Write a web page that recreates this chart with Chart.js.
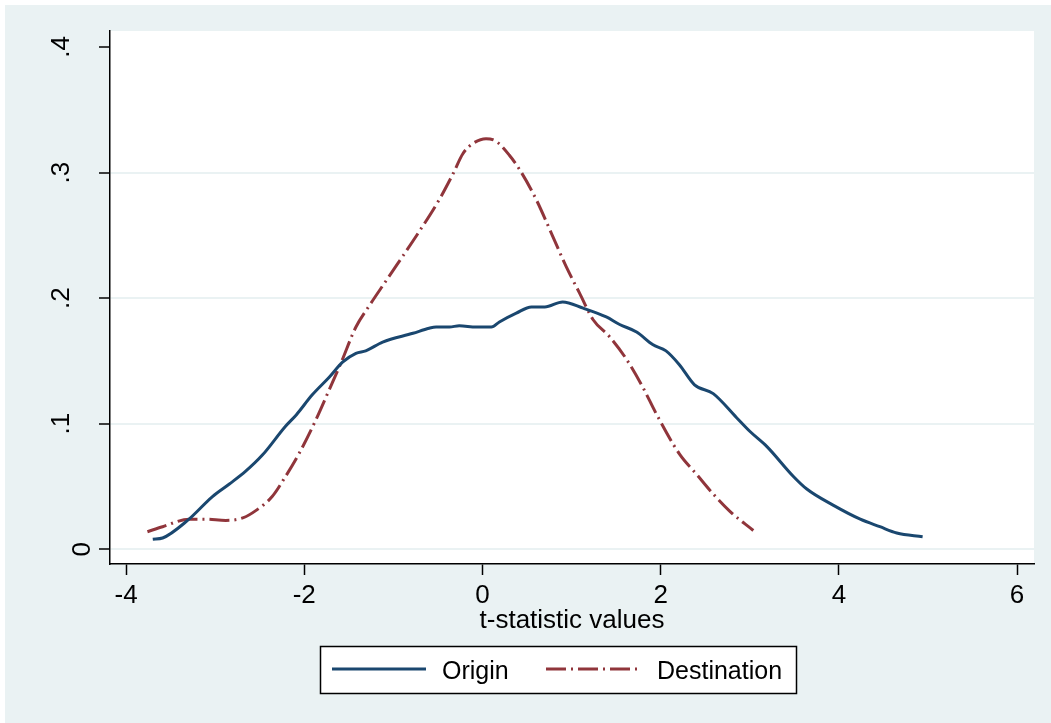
<!DOCTYPE html>
<html>
<head>
<meta charset="utf-8">
<script src="https://cdn.jsdelivr.net/npm/chart.js@4/dist/chart.umd.min.js"></script>
<style>
  html, body { margin: 0; padding: 0; background: #ffffff; }
  canvas { display: block; }
</style>
</head>
<body>
<canvas id="myChart" width="1051" height="723"></canvas>
<script>
// kernel density of t-statistics
const originT = [-3.70, -3.59, -3.31, -3.03, -2.84, -2.66, -2.47, -2.21, -2.09, -1.91, -1.72, -1.57, -1.42, -1.31, -1.12, -0.78, -0.60, -0.52, -0.37, -0.26, -0.07, 0.10, 0.19, 0.38, 0.55, 0.70, 0.90, 1.13, 1.39, 1.54, 1.73, 1.91, 2.06, 2.21, 2.38, 2.59, 2.85, 3.00, 3.19, 3.49, 3.64, 3.94, 4.24, 4.46, 4.65, 4.94];
const originD = [0.008, 0.009, 0.023, 0.042, 0.052, 0.062, 0.075, 0.098, 0.107, 0.123, 0.137, 0.149, 0.156, 0.158, 0.165, 0.172, 0.176, 0.177, 0.177, 0.178, 0.177, 0.177, 0.181, 0.188, 0.193, 0.193, 0.197, 0.192, 0.185, 0.179, 0.173, 0.163, 0.158, 0.147, 0.131, 0.124, 0.105, 0.094, 0.082, 0.058, 0.048, 0.035, 0.024, 0.018, 0.013, 0.010];

const destT = [-3.76, -3.59, -3.29, -3.11, -2.88, -2.69, -2.54, -2.36, -2.21, -2.06, -1.87, -1.72, -1.59, -1.42, -1.27, -1.08, -0.71, -0.48, -0.33, -0.22, -0.11, 0.04, 0.15, 0.30, 0.42, 0.60, 0.79, 0.94, 1.09, 1.24, 1.43, 1.61, 1.80, 1.95, 2.21, 2.40, 2.59, 2.78, 3.04];
const destD = [0.014, 0.018, 0.024, 0.024, 0.023, 0.025, 0.031, 0.042, 0.058, 0.076, 0.103, 0.127, 0.148, 0.177, 0.194, 0.214, 0.253, 0.279, 0.299, 0.315, 0.323, 0.327, 0.325, 0.314, 0.302, 0.279, 0.249, 0.225, 0.204, 0.183, 0.169, 0.152, 0.129, 0.108, 0.076, 0.060, 0.044, 0.030, 0.015];

const xTicks = [-4, -2, 0, 2, 4, 6];
const yTicks = [0, 0.1, 0.2, 0.3, 0.4];
const yTickLabels = ['0', '.1', '.2', '.3', '.4'];
const seriesNames = ['Origin', 'Destination'];
const xTitle = 't-statistic values';

const FONT = "'Liberation Sans', Arial, sans-serif";
const BLUE = '#1a476f';
const RED = '#90353b';
const BG = '#eaf2f3';
const DASHDOT = [20, 5, 2, 5];

const toPoints = function (xs, ys) {
  return xs.map((x, i) => ({ x: x, y: ys[i] }));
};

// background, rotated y labels, axis title and the boxed legend
const stataDecor = {
  id: 'stataDecor',
  beforeDraw(chart) {
    const ctx = chart.ctx;
    const a = chart.chartArea;
    ctx.save();
    ctx.fillStyle = BG;
    ctx.fillRect(5, 5, chart.width - 5, chart.height - 5);
    ctx.fillStyle = '#ffffff';
    ctx.fillRect(a.left, a.top, a.right - a.left, a.bottom - a.top);
    ctx.restore();
  },
  afterDraw(chart) {
    const ctx = chart.ctx;
    const a = chart.chartArea;
    const yScale = chart.scales.y;
    ctx.save();
    ctx.fillStyle = '#000000';

    // y labels, turned a quarter left
    ctx.font = '26px ' + FONT;
    ctx.textAlign = 'center';
    ctx.textBaseline = 'alphabetic';
    yTicks.forEach(function (v, i) {
      const label = yTickLabels[i];
      const py = yScale.getPixelForValue(v);
      const bx = label.charAt(0) === '.' ? 69 : 90;
      ctx.save();
      ctx.translate(bx, py);
      ctx.rotate(-Math.PI / 2);
      ctx.fillText(label, 0, 0);
      ctx.restore();
    });

    // x axis title
    ctx.font = '26px ' + FONT;
    ctx.textAlign = 'center';
    ctx.fillText(xTitle, (a.left + a.right) / 2, 628);

    // legend box
    const lx = 320.5, ly = 646.5, lw = 476, lh = 47;
    ctx.fillStyle = '#ffffff';
    ctx.fillRect(lx, ly, lw, lh);
    ctx.strokeStyle = '#000000';
    ctx.lineWidth = 1.5;
    ctx.strokeRect(lx, ly, lw, lh);

    ctx.font = '25px ' + FONT;
    const rowY = 669;
    const samples = [
      { x0: 332, x1: 426, tx: 442, color: BLUE, dash: [] },
      { x0: 546, x1: 640, tx: 657, color: RED, dash: DASHDOT },
    ];
    samples.forEach(function (s, i) {
      ctx.beginPath();
      ctx.setLineDash(s.dash);
      ctx.strokeStyle = s.color;
      ctx.lineWidth = 3;
      ctx.moveTo(s.x0, rowY);
      ctx.lineTo(s.x1, rowY);
      ctx.stroke();
      ctx.setLineDash([]);
      ctx.fillStyle = '#000000';
      ctx.textAlign = 'left';
      ctx.textBaseline = 'alphabetic';
      ctx.fillText(seriesNames[i], s.tx, rowY + 10);
    });
    ctx.restore();
  },
};

const ctx = document.getElementById('myChart').getContext('2d');
const screenChart = new Chart(ctx, {
  type: 'line',
  data: {
    datasets: [
      {
        label: seriesNames[0],
        data: toPoints(originT, originD),
        borderColor: BLUE,
        borderWidth: 3,
        pointRadius: 0,
        tension: 0.4,
        cubicInterpolationMode: 'monotone',
        fill: false,
      },
      {
        label: seriesNames[1],
        data: toPoints(destT, destD),
        borderColor: RED,
        borderWidth: 3,
        borderDash: DASHDOT,
        pointRadius: 0,
        tension: 0.4,
        cubicInterpolationMode: 'monotone',
        fill: false,
      },
    ],
  },
  options: {
    responsive: false,
    animation: false,
    layout: { padding: { top: 31, right: 17, left: 0, bottom: 0 } },
    plugins: {
      legend: { display: false },
      tooltip: { enabled: false },
    },
    scales: {
      x: {
        type: 'linear',
        min: -4.18,
        max: 6.19,
        afterBuildTicks: function (axis) {
          axis.ticks = xTicks.map((v) => ({ value: v }));
        },
        afterFit: function (scale) {
          scale.height = 159;
        },
        grid: {
          drawOnChartArea: false,
          drawTicks: true,
          tickLength: 11,
          tickColor: '#000000',
          tickWidth: 1.5,
        },
        border: { display: true, color: '#000000', width: 1.5 },
        ticks: {
          color: '#000000',
          font: { family: FONT, size: 26 },
          padding: 5,
          maxRotation: 0,
          callback: (v) => String(v),
        },
      },
      y: {
        type: 'linear',
        min: -0.0117,
        max: 0.4127,
        afterBuildTicks: function (axis) {
          axis.ticks = yTicks.map((v) => ({ value: v }));
        },
        afterFit: function (scale) {
          scale.width = 110;
        },
        grid: {
          color: (c) => (c.tick && c.tick.value >= 0.4 ? 'rgba(0,0,0,0)' : BG),
          lineWidth: 2,
          drawTicks: true,
          tickLength: 11,
          tickColor: '#000000',
          tickWidth: 1.5,
        },
        border: { display: true, color: '#000000', width: 1.5 },
        ticks: { display: false },
      },
    },
  },
  plugins: [stataDecor],
});
</script>
</body>
</html>
